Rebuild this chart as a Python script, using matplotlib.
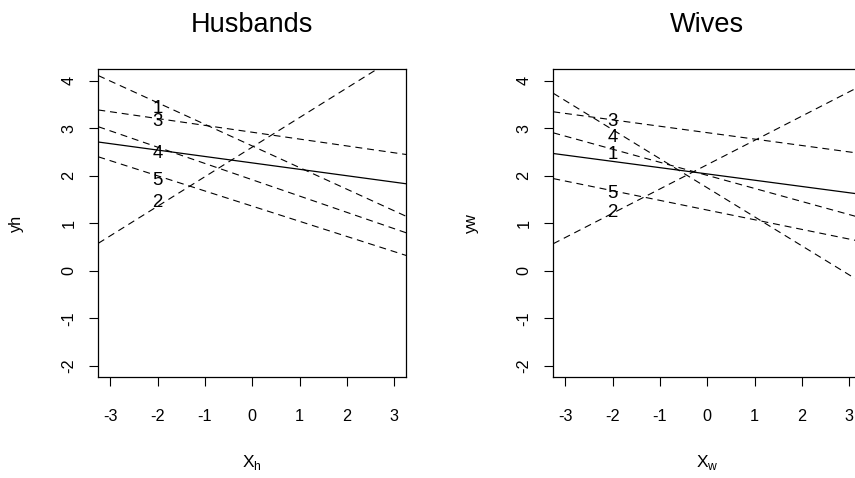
import matplotlib
matplotlib.use('Agg')
from matplotlib import pyplot as plt

plt.rcParams['font.family'] = ['Liberation Sans', 'DejaVu Sans']
plt.rcParams['lines.scale_dashes'] = False

# tick values
x_ticks = [-3, -2, -1, 0, 1, 2, 3]
y_ticks = [-2, -1, 0, 1, 2, 3, 4]

# pooled (solid) line: intercept, slope
husb_mean = (2.27, -0.135)
wife_mean = (2.038, -0.132)

# individual (dashed) lines, one per couple
couples = ['1', '2', '3', '4', '5']
husb_icpt = [2.626, 2.603, 2.915, 1.915, 1.36]
husb_slope = [-0.455, 0.622, -0.144, -0.343, -0.319]
husb_label_y = [3.42, 1.43, 3.15, 2.47, 1.90]

wife_icpt = [2.008, 2.233, 2.906, 1.747, 1.278]
wife_slope = [-0.275, 0.511, -0.135, -0.611, -0.2035]
wife_label_y = [2.447, 1.236, 3.135, 2.805, 1.62]
label_x = -2

fig = plt.figure(figsize=(8.55, 4.78), dpi=100)
ax_h = fig.add_axes([0.115, 0.2107, 0.3602, 0.6444])
ax_w = fig.add_axes([0.6471, 0.2107, 0.3602, 0.6444])

panels = [
    (ax_h, 'Husbands', husb_mean, husb_icpt, husb_slope, husb_label_y, 'yh', 'h'),
    (ax_w, 'Wives', wife_mean, wife_icpt, wife_slope, wife_label_y, 'yw', 'w'),
]

for ax, title, mean, icpts, slopes, lab_y, ylab, sub in panels:
    ax.set_xlim(-3.254, 3.254)
    ax.set_ylim(-2.24, 4.24)
    ax.axline((0, mean[0]), slope=mean[1], color='black', lw=0.9)
    for b, m in zip(icpts, slopes):
        ax.axline((0, b), slope=m, color='black', lw=0.8, dashes=(5, 3.5))
    for lab, yv in zip(couples, lab_y):
        ax.text(label_x, yv, lab, ha='center', va='center', fontsize=13.4)

    ax.set_xticks(x_ticks)
    ax.set_yticks(y_ticks)
    ax.set_xticklabels([str(v) for v in x_ticks])
    ax.set_yticklabels([str(v) for v in y_ticks], rotation=90, va='center')
    ax.tick_params(direction='out', length=6.8, width=0.8, labelsize=11.7)
    ax.tick_params(axis='x', pad=16)
    ax.tick_params(axis='y', pad=9)
    for s in ax.spines.values():
        s.set_linewidth(0.9)

    ax.set_title(title, fontsize=19.5, y=1.122, pad=0)
    ax.set_xlabel('X$_\\mathregular{%s}$' % sub, fontsize=12.5, va='center')
    ax.xaxis.set_label_coords(0.5, -0.278)
    ax.set_ylabel(ylab, fontsize=11.7, va='center')
    ax.yaxis.set_label_coords(-0.267, 0.5)

fig.savefig('out.png', dpi=100)
